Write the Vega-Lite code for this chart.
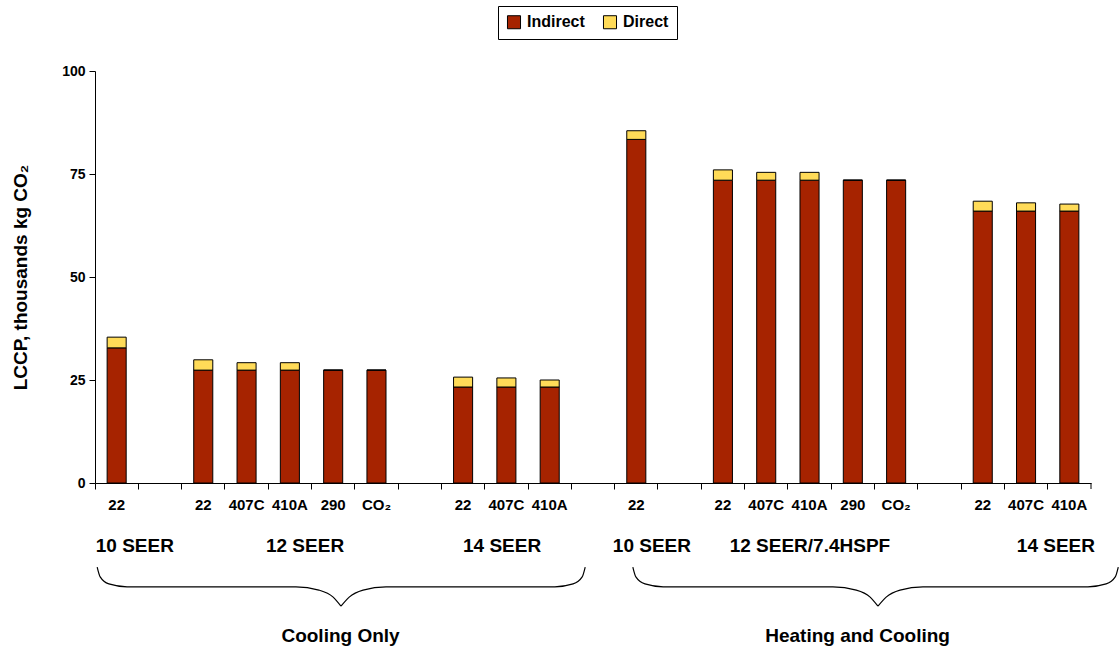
{
  "$schema": "https://vega.github.io/schema/vega-lite/v6.json",
  "width": 996,
  "height": 412,
  "autosize": {"type": "none"},
  "padding": {"left": 95, "top": 71, "right": 28, "bottom": 168},
  "background": "white",
  "config": {"view": {"stroke": null}, "font": "Liberation Sans"},
  "layer": [
    {
      "data": {
        "values": [
          {"slot": "00 22", "system": "Cooling Only", "rating": "10 SEER", "type": "Indirect", "value": 32.8},
          {"slot": "00 22", "system": "Cooling Only", "rating": "10 SEER", "type": "Direct", "value": 2.6},
          {"slot": "02 22", "system": "Cooling Only", "rating": "12 SEER", "type": "Indirect", "value": 27.4},
          {"slot": "02 22", "system": "Cooling Only", "rating": "12 SEER", "type": "Direct", "value": 2.5},
          {"slot": "03 407C", "system": "Cooling Only", "rating": "12 SEER", "type": "Indirect", "value": 27.4},
          {"slot": "03 407C", "system": "Cooling Only", "rating": "12 SEER", "type": "Direct", "value": 1.8},
          {"slot": "04 410A", "system": "Cooling Only", "rating": "12 SEER", "type": "Indirect", "value": 27.4},
          {"slot": "04 410A", "system": "Cooling Only", "rating": "12 SEER", "type": "Direct", "value": 1.8},
          {"slot": "05 290", "system": "Cooling Only", "rating": "12 SEER", "type": "Indirect", "value": 27.4},
          {"slot": "05 290", "system": "Cooling Only", "rating": "12 SEER", "type": "Direct", "value": 0},
          {"slot": "06 CO₂", "system": "Cooling Only", "rating": "12 SEER", "type": "Indirect", "value": 27.4},
          {"slot": "06 CO₂", "system": "Cooling Only", "rating": "12 SEER", "type": "Direct", "value": 0},
          {"slot": "08 22", "system": "Cooling Only", "rating": "14 SEER", "type": "Indirect", "value": 23.3},
          {"slot": "08 22", "system": "Cooling Only", "rating": "14 SEER", "type": "Direct", "value": 2.4},
          {"slot": "09 407C", "system": "Cooling Only", "rating": "14 SEER", "type": "Indirect", "value": 23.3},
          {"slot": "09 407C", "system": "Cooling Only", "rating": "14 SEER", "type": "Direct", "value": 2.2},
          {"slot": "10 410A", "system": "Cooling Only", "rating": "14 SEER", "type": "Indirect", "value": 23.3},
          {"slot": "10 410A", "system": "Cooling Only", "rating": "14 SEER", "type": "Direct", "value": 1.7},
          {"slot": "12 22", "system": "Heating and Cooling", "rating": "10 SEER", "type": "Indirect", "value": 83.4},
          {"slot": "12 22", "system": "Heating and Cooling", "rating": "10 SEER", "type": "Direct", "value": 2.1},
          {"slot": "14 22", "system": "Heating and Cooling", "rating": "12 SEER/7.4HSPF", "type": "Indirect", "value": 73.5},
          {"slot": "14 22", "system": "Heating and Cooling", "rating": "12 SEER/7.4HSPF", "type": "Direct", "value": 2.5},
          {"slot": "15 407C", "system": "Heating and Cooling", "rating": "12 SEER/7.4HSPF", "type": "Indirect", "value": 73.5},
          {"slot": "15 407C", "system": "Heating and Cooling", "rating": "12 SEER/7.4HSPF", "type": "Direct", "value": 1.9},
          {"slot": "16 410A", "system": "Heating and Cooling", "rating": "12 SEER/7.4HSPF", "type": "Indirect", "value": 73.5},
          {"slot": "16 410A", "system": "Heating and Cooling", "rating": "12 SEER/7.4HSPF", "type": "Direct", "value": 1.9},
          {"slot": "17 290", "system": "Heating and Cooling", "rating": "12 SEER/7.4HSPF", "type": "Indirect", "value": 73.5},
          {"slot": "17 290", "system": "Heating and Cooling", "rating": "12 SEER/7.4HSPF", "type": "Direct", "value": 0},
          {"slot": "18 CO₂", "system": "Heating and Cooling", "rating": "12 SEER/7.4HSPF", "type": "Indirect", "value": 73.5},
          {"slot": "18 CO₂", "system": "Heating and Cooling", "rating": "12 SEER/7.4HSPF", "type": "Direct", "value": 0},
          {"slot": "20 22", "system": "Heating and Cooling", "rating": "14 SEER", "type": "Indirect", "value": 66.0},
          {"slot": "20 22", "system": "Heating and Cooling", "rating": "14 SEER", "type": "Direct", "value": 2.4},
          {"slot": "21 407C", "system": "Heating and Cooling", "rating": "14 SEER", "type": "Indirect", "value": 66.0},
          {"slot": "21 407C", "system": "Heating and Cooling", "rating": "14 SEER", "type": "Direct", "value": 2.0},
          {"slot": "22 410A", "system": "Heating and Cooling", "rating": "14 SEER", "type": "Indirect", "value": 66.0},
          {"slot": "22 410A", "system": "Heating and Cooling", "rating": "14 SEER", "type": "Direct", "value": 1.7}
        ]
      },
      "mark": {"type": "bar", "width": {"band": 0.44}, "stroke": "black", "strokeWidth": 1},
      "encoding": {
        "x": {
          "field": "slot",
          "type": "nominal",
          "sort": null,
          "scale": {
            "domain": ["00 22", "01 ", "02 22", "03 407C", "04 410A", "05 290", "06 CO₂", "07 ", "08 22", "09 407C", "10 410A", "11 ", "12 22", "13 ", "14 22", "15 407C", "16 410A", "17 290", "18 CO₂", "19 ", "20 22", "21 407C", "22 410A"],
            "paddingInner": 0,
            "paddingOuter": 0
          },
          "axis": {
            "title": null,
            "bandPosition": 0,
            "labelExpr": "substring(datum.value, 3)",
            "labelAngle": 0,
            "labelOverlap": false,
            "labelFont": "Liberation Sans",
            "labelFontWeight": "bold",
            "labelFontSize": 15,
            "labelColor": "black",
            "labelPadding": 8,
            "tickColor": "black",
            "tickSize": 6,
            "domainColor": "black",
            "grid": false
          }
        },
        "y": {
          "field": "value",
          "type": "quantitative",
          "stack": "zero",
          "title": "LCCP, thousands kg CO₂",
          "scale": {"domain": [0, 100], "nice": false},
          "axis": {
            "values": [0, 25, 50, 75, 100],
            "grid": false,
            "tickSize": 6,
            "tickColor": "black",
            "domainColor": "black",
            "labelFont": "Liberation Sans",
            "labelFontWeight": "bold",
            "labelFontSize": 14,
            "labelColor": "black",
            "labelPadding": 4,
            "titleFont": "Liberation Sans",
            "titleFontSize": 19,
            "titleFontWeight": "bold",
            "titleColor": "black",
            "titlePadding": 31
          }
        },
        "color": {
          "field": "type",
          "type": "nominal",
          "scale": {"domain": ["Indirect", "Direct"], "range": ["#A62300", "#FFDB58"]},
          "legend": {
            "orient": "none",
            "legendX": 403,
            "legendY": -65,
            "direction": "horizontal",
            "title": null,
            "strokeColor": "black",
            "fillColor": "white",
            "padding": 8,
            "symbolType": "square",
            "symbolSize": 170,
            "symbolStrokeColor": "black",
            "symbolStrokeWidth": 1,
            "symbolOpacity": 1,
            "labelFont": "Liberation Sans",
            "labelFontWeight": "bold",
            "labelFontSize": 16,
            "labelColor": "black",
            "labelOffset": 5,
            "columnPadding": 16
          }
        },
        "order": {"field": "type", "sort": "descending"}
      }
    },
    {
      "data": {
        "values": [
          {"part": "cool-left", "pos": 0.05, "level": -20.4},
          {"part": "cool-left", "pos": 0.12, "level": -22.8},
          {"part": "cool-left", "pos": 0.32, "level": -24.5},
          {"part": "cool-left", "pos": 0.74, "level": -25.2},
          {"part": "cool-left", "pos": 4.64, "level": -25.2},
          {"part": "cool-left", "pos": 5.17, "level": -26.0},
          {"part": "cool-left", "pos": 5.5, "level": -27.7},
          {"part": "cool-left", "pos": 5.68, "level": -29.9},
          {"part": "cool-right", "pos": 5.68, "level": -29.9},
          {"part": "cool-right", "pos": 5.87, "level": -27.7},
          {"part": "cool-right", "pos": 6.19, "level": -26.0},
          {"part": "cool-right", "pos": 6.72, "level": -25.2},
          {"part": "cool-right", "pos": 10.62, "level": -25.2},
          {"part": "cool-right", "pos": 11.04, "level": -24.5},
          {"part": "cool-right", "pos": 11.25, "level": -22.8},
          {"part": "cool-right", "pos": 11.32, "level": -20.4},
          {"part": "heat-left", "pos": 12.42, "level": -20.4},
          {"part": "heat-left", "pos": 12.49, "level": -22.8},
          {"part": "heat-left", "pos": 12.7, "level": -24.5},
          {"part": "heat-left", "pos": 13.12, "level": -25.2},
          {"part": "heat-left", "pos": 17.04, "level": -25.2},
          {"part": "heat-left", "pos": 17.58, "level": -26.0},
          {"part": "heat-left", "pos": 17.9, "level": -27.7},
          {"part": "heat-left", "pos": 18.08, "level": -29.9},
          {"part": "heat-right", "pos": 18.08, "level": -29.9},
          {"part": "heat-right", "pos": 18.27, "level": -27.7},
          {"part": "heat-right", "pos": 18.59, "level": -26.0},
          {"part": "heat-right", "pos": 19.12, "level": -25.2},
          {"part": "heat-right", "pos": 22.93, "level": -25.2},
          {"part": "heat-right", "pos": 23.35, "level": -24.5},
          {"part": "heat-right", "pos": 23.56, "level": -22.8},
          {"part": "heat-right", "pos": 23.63, "level": -20.4}
        ]
      },
      "mark": {"type": "line", "interpolate": "monotone", "color": "black", "strokeWidth": 1.2},
      "encoding": {
        "x": {"field": "pos", "type": "quantitative", "scale": {"domain": [0, 23], "nice": false, "zero": false}, "axis": null},
        "y": {"field": "level", "type": "quantitative", "title": "LCCP, thousands kg CO₂", "scale": {"domain": [0, 100], "nice": false}},
        "detail": {"field": "part", "type": "nominal"}
      }
    },
    {
      "data": {"values": [{"pos": 23, "level": 0, "level2": -1.46}]},
      "mark": {"type": "rule", "color": "black", "strokeWidth": 1},
      "encoding": {
        "x": {"field": "pos", "type": "quantitative", "scale": {"domain": [0, 23], "nice": false, "zero": false}, "axis": null},
        "y": {"field": "level", "type": "quantitative", "title": "LCCP, thousands kg CO₂", "scale": {"domain": [0, 100], "nice": false}},
        "y2": {"field": "level2"}
      }
    },
    {
      "data": {
        "values": [
          {"label": "10 SEER", "pos": 0.92, "level": -15.3},
          {"label": "12 SEER", "pos": 4.85, "level": -15.3},
          {"label": "14 SEER", "pos": 9.4, "level": -15.3},
          {"label": "10 SEER", "pos": 12.86, "level": -15.3},
          {"label": "12 SEER/7.4HSPF", "pos": 16.51, "level": -15.3},
          {"label": "14 SEER", "pos": 22.19, "level": -15.3},
          {"label": "Cooling Only", "pos": 5.67, "level": -37.1},
          {"label": "Heating and Cooling", "pos": 17.61, "level": -37.1}
        ]
      },
      "mark": {"type": "text", "font": "Liberation Sans", "fontWeight": "bold", "fontSize": 19, "color": "black", "align": "center", "baseline": "middle"},
      "encoding": {
        "x": {"field": "pos", "type": "quantitative", "scale": {"domain": [0, 23], "nice": false, "zero": false}, "axis": null},
        "y": {"field": "level", "type": "quantitative", "title": "LCCP, thousands kg CO₂", "scale": {"domain": [0, 100], "nice": false}},
        "text": {"field": "label"}
      }
    }
  ],
  "resolve": {"scale": {"x": "independent"}, "axis": {"x": "independent"}}
}
